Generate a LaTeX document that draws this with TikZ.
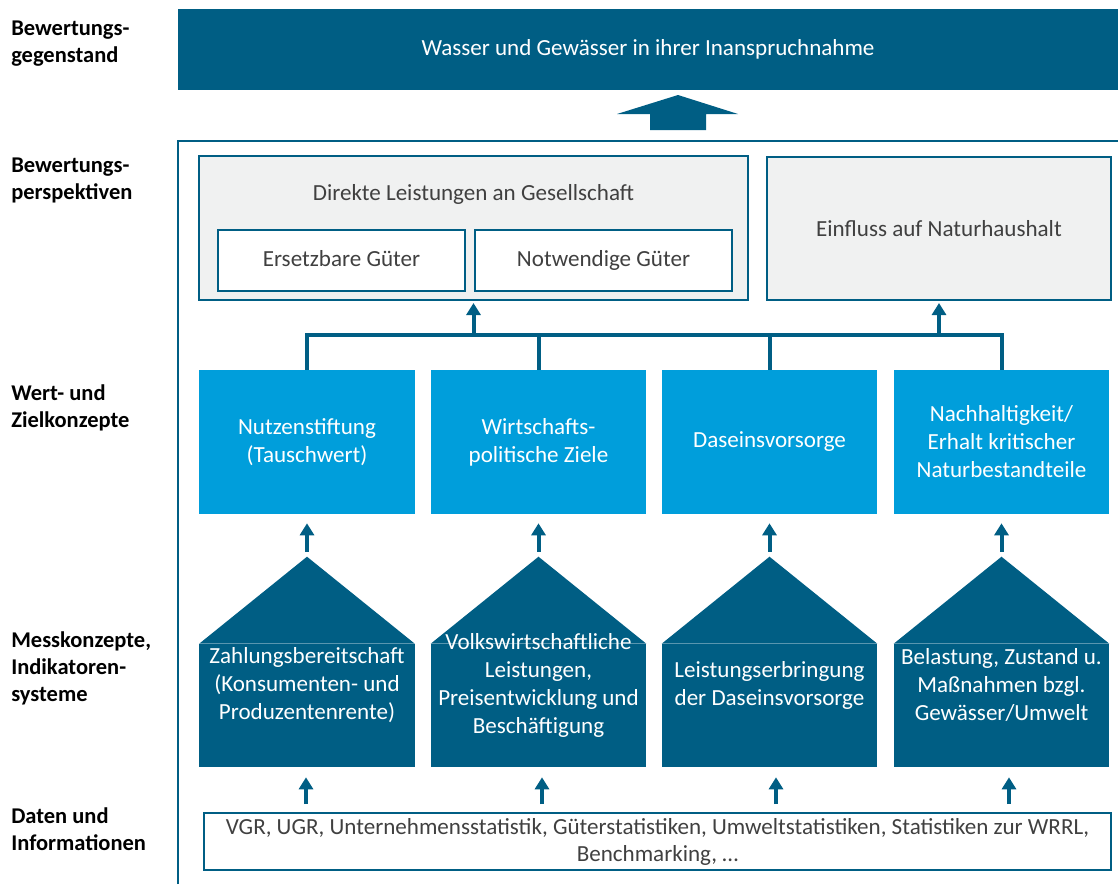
\documentclass[tikz,border=0pt]{standalone}
\usepackage{fontspec}
\setmainfont{Carlito}
\usetikzlibrary{arrows.meta,calc,positioning}

\definecolor{wdark}{RGB}{0,94,132}
\definecolor{wlight}{RGB}{0,158,219}
\definecolor{wgray}{RGB}{240,241,241}
\definecolor{wtext}{RGB}{64,64,64}

\begin{document}
\begin{tikzpicture}
[
x=0.025cm, y=-0.025cm
, every node/.style={font=\fontsize{16.4}{19.9}\selectfont, align=center, inner sep=0pt}
, level/.style={font=\fontsize{16}{19.2}\selectfont\bfseries, anchor=west, align=left}
, persp/.style={draw=wdark, line width=1.4pt, fill=wgray, text=wtext}
, good/.style={draw=wdark, line width=1.4pt, fill=white, text=wtext, minimum width=#1, minimum height=1.525cm, text height=1.9ex, text depth=0.2ex}
, value/.style={fill=wlight, text=white, minimum width=5.375cm, minimum height=3.6cm}
, body/.style={fill=wdark, minimum width=5.375cm, minimum height=3.075cm}
, arr/.style={draw=wdark, line width=0.1cm, -{Triangle[width=0.35cm,length=0.3cm]}}
, tree/.style={draw=wdark, line width=0.1cm}
]

\useasboundingbox (0,0) rectangle (1118,884);

% left column
\node[level] (l1) at (11,43.5) {Bewertungs-\\gegenstand};
\node[level] (l2) at (11,180) {Bewertungs-\\perspektiven};
\node[level] (l3) at (11,408) {Wert- und\\Zielkonzepte};
\node[level] (l4) at (11,668) {Messkonzepte,\\Indikatoren-\\systeme};
\node[level] (l5) at (11,829) {Daten und\\Informationen};

% object of valuation
\node[fill=wdark, text=white, minimum width=23.5cm, minimum height=2.025cm] (obj) at (648,49.5) {Wasser und Gewässer in ihrer Inanspruchnahme};
\fill[wdark] (650,130) -- (650,114) -- (617,114) -- (678,95) -- (738,114) -- (706,114) -- (706,130) -- cycle;

% frame
\draw[wdark, line width=1.8pt] (178,884) -- (178,141) -- (1118,141);

% perspectives
\node[persp, minimum width=13.725cm, minimum height=3.6cm] (dl) at (473.5,228) {};
\node[text=wtext] (dlt) at (473.5,194) {Direkte Leistungen an Gesellschaft};
\node[good=6.175cm] (ers) at (341.5,260.5) {Ersetzbare Güter};
\node[good=6.425cm] (notw) at (603.5,260.5) {Notwendige Güter};
\node[persp, minimum width=8.6cm, minimum height=3.575cm] (ein) at (939,228.5) {Einfluss auf Naturhaushalt};

% value concepts
\node[value] (v1) at (307,442) {Nutzenstiftung\\(Tauschwert)};
\node[value] (v2) at (538.5,442) {Wirtschafts-\\politische Ziele};
\node[value] (v3) at (769.5,442) {Daseinsvorsorge};
\node[value] (v4) at (1001.5,442) {Nachhaltigkeit/\\Erhalt kritischer\\Naturbestandteile};

% tree
\coordinate (bar) at (0,335);
\draw[tree] (v1.north) -- (v1.north |- bar) -- (v4.north |- bar) -- (v4.north);
\draw[tree] (v2.north) -- (v2.north |- bar);
\draw[tree] (v3.north) -- (v3.north |- bar);
\draw[arr, shorten >=0.05cm] (dl.south |- bar) -- (dl.south);
\draw[arr, shorten >=0.05cm] (ein.south |- bar) -- (ein.south);

% measurement concepts (houses)
\node[body] (h1) at (307,705.5) {};
\node[body] (h2) at (538.5,705.5) {};
\node[body] (h3) at (769.5,705.5) {};
\node[body] (h4) at (1001.5,705.5) {};
\coordinate (a1) at ($(h1.north)+(0,-87)$);
\coordinate (a2) at ($(h2.north)+(0,-87)$);
\coordinate (a3) at ($(h3.north)+(0,-87)$);
\coordinate (a4) at ($(h4.north)+(0,-87)$);
\fill[wdark] (h1.north west) -- (a1) -- (h1.north east) -- cycle;
\fill[wdark] (h2.north west) -- (a2) -- (h2.north east) -- cycle;
\fill[wdark] (h3.north west) -- (a3) -- (h3.north east) -- cycle;
\fill[wdark] (h4.north west) -- (a4) -- (h4.north east) -- cycle;
\node[text=white] (m1) at (307,685) {Zahlungsbereitschaft\\(Konsumenten- und\\Produzentenrente)};
\node[text=white] (m2) at (538.5,685) {Volkswirtschaftliche\\Leistungen,\\Preisentwicklung und\\Beschäftigung};
\node[text=white] (m3) at (769.5,685) {Leistungserbringung\\der Daseinsvorsorge};
\node[text=white] (m4) at (1001.5,685) {Belastung, Zustand u.\\Maßnahmen bzgl.\\Gewässer/Umwelt};

\draw[arr, shorten <=0.125cm, shorten >=0.225cm] (a1) -- (v1.south);
\draw[arr, shorten <=0.125cm, shorten >=0.225cm] (a2) -- (v2.south);
\draw[arr, shorten <=0.125cm, shorten >=0.225cm] (a3) -- (v3.south);
\draw[arr, shorten <=0.125cm, shorten >=0.225cm] (a4) -- (v4.south);

% data
\node[draw=wdark, line width=1.4pt, text=wtext, minimum width=22.675cm, minimum height=1.425cm, font=\fontsize{16.4}{19.2}\selectfont] (dat) at (657.5,841.5) {VGR, UGR, Unternehmensstatistik, Güterstatistiken, Umweltstatistiken, Statistiken zur WRRL,\\Benchmarking, \dots};

\coordinate (p1) at ($(h1.south)+(-1,0)$);
\coordinate (p2) at ($(h2.south)+(3.5,0)$);
\coordinate (p3) at ($(h3.south)+(6.5,0)$);
\coordinate (p4) at ($(h4.south)+(7.5,0)$);
\draw[arr, shorten <=0.2cm, shorten >=0.25cm] (p1 |- dat.north) -- (p1);
\draw[arr, shorten <=0.2cm, shorten >=0.25cm] (p2 |- dat.north) -- (p2);
\draw[arr, shorten <=0.2cm, shorten >=0.25cm] (p3 |- dat.north) -- (p3);
\draw[arr, shorten <=0.2cm, shorten >=0.25cm] (p4 |- dat.north) -- (p4);

\end{tikzpicture}
\end{document}
